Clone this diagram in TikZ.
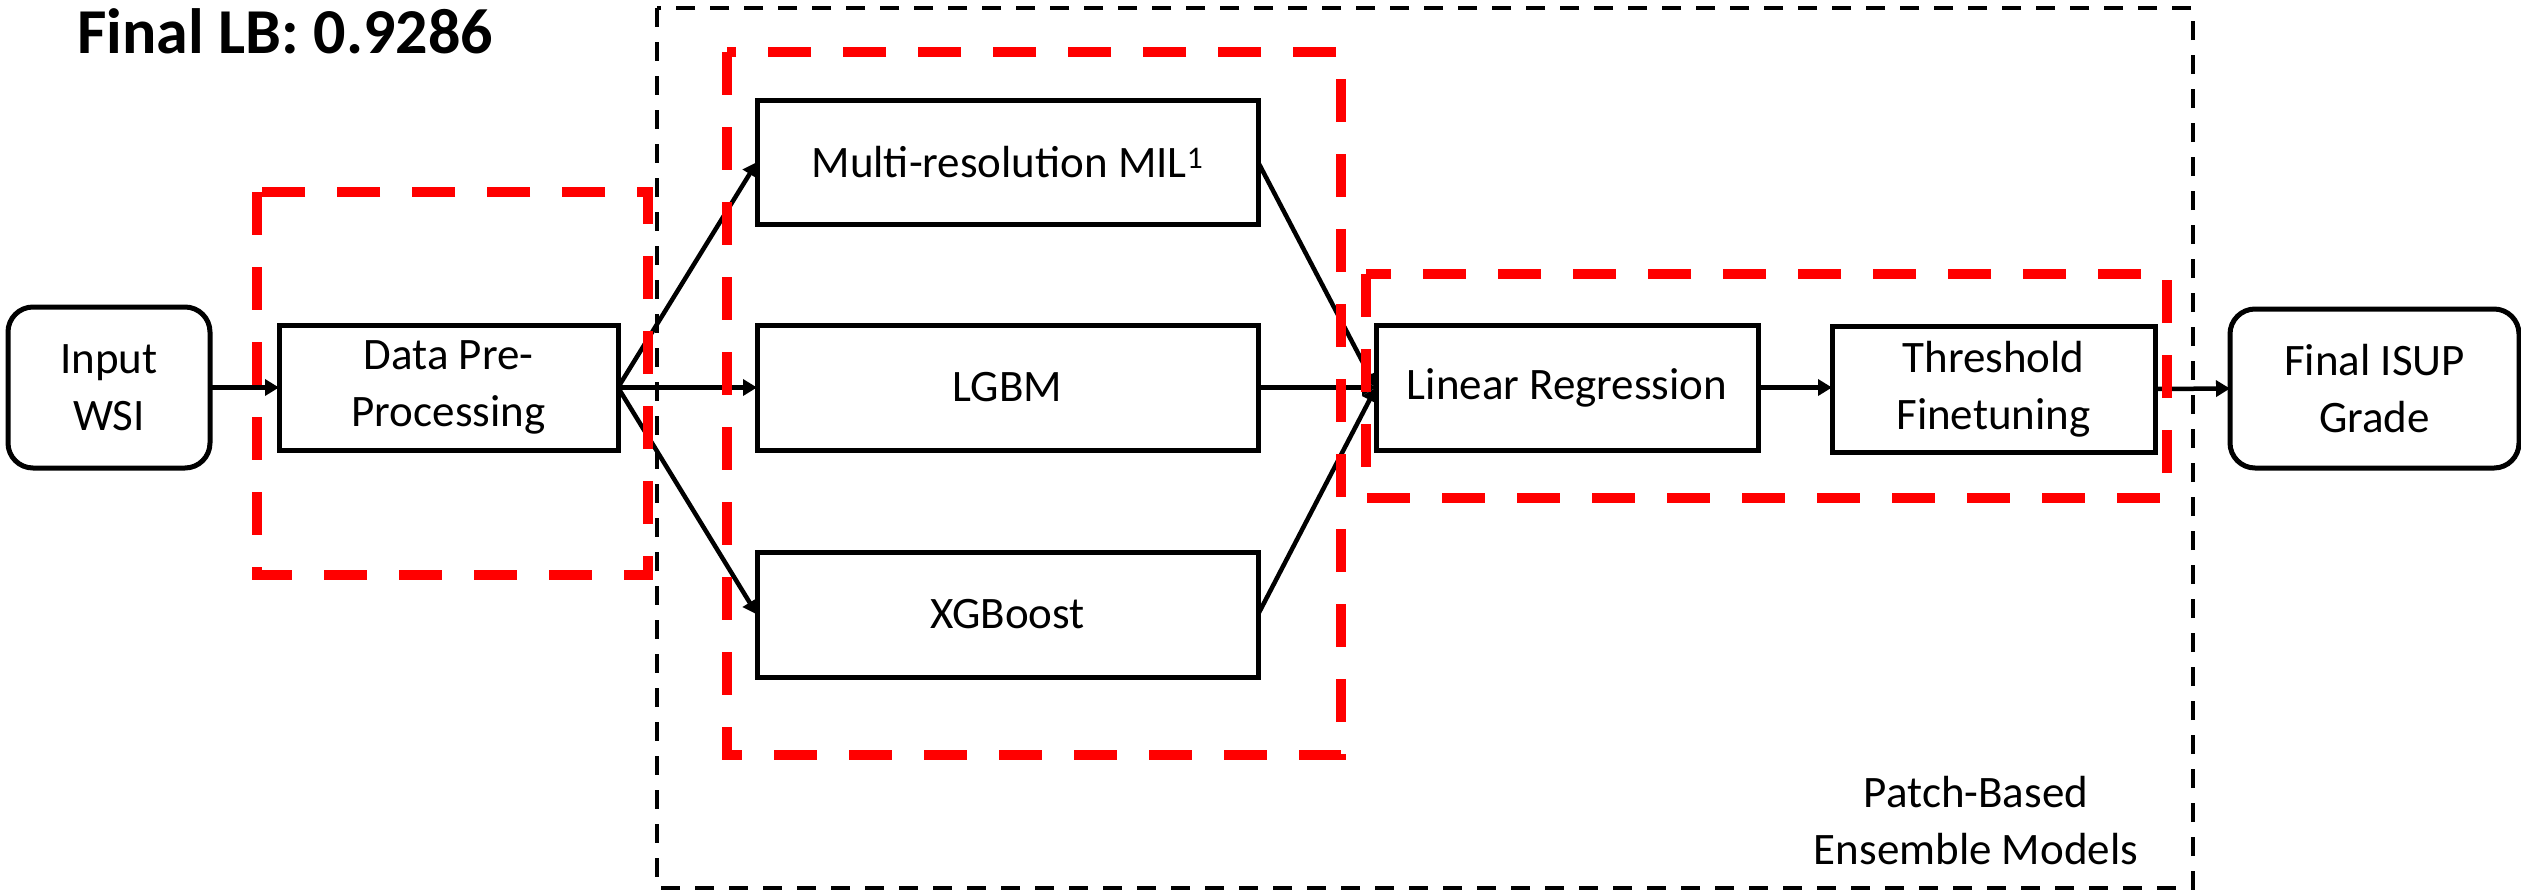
\documentclass[tikz,border=0pt]{standalone}
\usepackage{fontspec}
\setmainfont{Carlito}
\usetikzlibrary{arrows.meta}
\definecolor{framered}{RGB}{255,0,0}
\begin{document}
\begin{tikzpicture}[x=1pt,y=-1pt,
  stepbox/.style={draw, line width=5pt, inner sep=0pt, outer sep=0pt, align=center,
    font=\fontsize{45}{57}\selectfont},
  endbox/.style={stepbox, rounded corners=25pt},
  link/.style={line width=4.5pt, -{Triangle[length=14pt,width=16pt]}},
  redframe/.style={draw=framered, line width=10pt, dash pattern=on 43pt off 32pt},
  blackframe/.style={draw=black, line width=4.5pt, dash pattern=on 19pt off 15pt},
  lbl/.style={inner sep=0pt, align=center, font=\fontsize{45}{57}\selectfont}]

% canvas
\useasboundingbox (0,0) rectangle (2521,892);

% title
\node[inner sep=0pt, anchor=base west, font=\fontsize{64}{70}\selectfont\bfseries] (title) at (77,53) {Final LB: 0.9286};

% pipeline stages
\node[endbox, minimum width=202pt, minimum height=161pt] (wsi) at (109,387.5) {Input\\WSI};
\node[stepbox, minimum width=339pt, minimum height=125pt] (prep) at (448.5,387.5) {Data Pre-\\Processing};
\node[stepbox, minimum width=501pt, minimum height=124pt] (mil) at (1007.5,162) {Multi-resolution MIL\textsuperscript{1}};
\node[stepbox, minimum width=501pt, minimum height=125pt] (lgbm) at (1007.5,387.5) {LGBM};
\node[stepbox, minimum width=501pt, minimum height=125pt] (xgb) at (1007.5,614.5) {XGBoost};
\node[stepbox, minimum width=382pt, minimum height=125pt] (linreg) at (1567,387.5) {Linear Regression};
\node[stepbox, minimum width=323pt, minimum height=126pt] (thresh) at (1993.5,389) {Threshold\\Finetuning};
\node[endbox, minimum width=289pt, minimum height=159pt] (grade) at (2374.5,388.5) {Final ISUP\\Grade};

% connectors
\draw[link] (wsi.east) -- (prep.west);
\draw[link] (prep.east) -- (mil.west);
\draw[link] (prep.east) -- (lgbm.west);
\draw[link] (prep.east) -- (xgb.west);
\draw[link] (mil.east) -- (linreg.west);
\draw[link] (lgbm.east) -- (linreg.west);
\draw[link] (xgb.east) -- (linreg.west);
\draw[link] (linreg.east) -- (thresh.west |- linreg.east);
\draw[link] (thresh.east) -- (grade.west);

% highlighted groups
\draw[redframe] (257,192) rectangle (648,575);
\draw[redframe] (727,52) rectangle (1341,755);
\draw[redframe] (1366,274) rectangle (2167,498);

% ensemble enclosure
\draw[blackframe] (657,8) rectangle (2193,888);
\node[lbl] (ensemble) at (1976,821) {Patch-Based\\Ensemble Models};

\end{tikzpicture}
\end{document}
